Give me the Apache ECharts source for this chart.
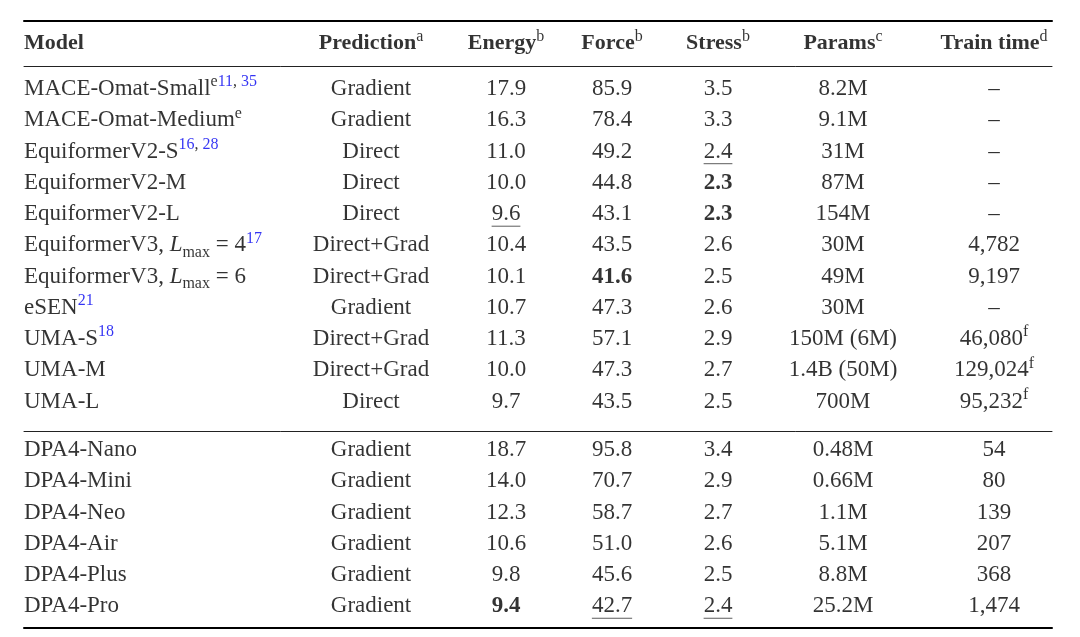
<!DOCTYPE html>
<html>
<head>
<meta charset="utf-8">
<script src="https://cdn.jsdelivr.net/npm/echarts@6/dist/echarts.min.js"></script>
<style>
  html, body { margin: 0; padding: 0; background: #fff; }
  #main { width: 1080px; height: 637px; }
</style>
</head>
<body>
<div id="main"></div>
<script>
// table data
var headers = ['Model', 'Prediction', 'Energy', 'Force', 'Stress', 'Params', 'Train time'];
var headerNotes = ['', 'a', 'b', 'b', 'b', 'c', 'd'];
var models = ['MACE-Omat-Small', 'MACE-Omat-Medium', 'EquiformerV2-S', 'EquiformerV2-M', 'EquiformerV2-L',
  'EquiformerV3, L_max = 4', 'EquiformerV3, L_max = 6', 'eSEN', 'UMA-S', 'UMA-M', 'UMA-L',
  'DPA4-Nano', 'DPA4-Mini', 'DPA4-Neo', 'DPA4-Air', 'DPA4-Plus', 'DPA4-Pro'];
var modelNotes = ['e', 'e', '', '', '', '', '', '', '', '', '', '', '', '', '', '', ''];
var modelRefs = [['11', '35'], [], ['16', '28'], [], [], ['17'], [], ['21'], ['18'], [], [], [], [], [], [], [], []];
var prediction = ['Gradient', 'Gradient', 'Direct', 'Direct', 'Direct', 'Direct+Grad', 'Direct+Grad', 'Gradient',
  'Direct+Grad', 'Direct+Grad', 'Direct', 'Gradient', 'Gradient', 'Gradient', 'Gradient', 'Gradient', 'Gradient'];
var energy = [17.9, 16.3, 11.0, 10.0, 9.6, 10.4, 10.1, 10.7, 11.3, 10.0, 9.7, 18.7, 14.0, 12.3, 10.6, 9.8, 9.4];
var force = [85.9, 78.4, 49.2, 44.8, 43.1, 43.5, 41.6, 47.3, 57.1, 47.3, 43.5, 95.8, 70.7, 58.7, 51.0, 45.6, 42.7];
var stress = [3.5, 3.3, 2.4, 2.3, 2.3, 2.6, 2.5, 2.6, 2.9, 2.7, 2.5, 3.4, 2.9, 2.7, 2.6, 2.5, 2.4];
var params = ['8.2M', '9.1M', '31M', '87M', '154M', '30M', '49M', '30M', '150M (6M)', '1.4B (50M)', '700M',
  '0.48M', '0.66M', '1.1M', '5.1M', '8.8M', '25.2M'];
var trainTime = [null, null, null, null, null, 4782, 9197, null, 46080, 129024, 95232, 54, 80, 139, 207, 368, 1474];
var trainNotes = ['', '', '', '', '', '', '', '', 'f', 'f', 'f', '', '', '', '', '', ''];
var groupSizes = [11, 6];

// layout
var colX = [24, 371, 506, 612, 718, 843, 994];
var FONT = 'Liberation Serif';
var INK = '#000';
var FS = 23;

var measureCtx = document.createElement('canvas').getContext('2d');
measureCtx.font = FS + 'px "' + FONT + '"';

// best (bold) and second best (underlined) per metric column
function bestTwo(arr) {
  var u = arr.slice().sort(function (a, b) { return a - b; })
    .filter(function (v, i, a) { return i === 0 || v !== a[i - 1]; });
  return [u[0], u[1]];
}
var metrics = [energy, force, stress];
var metricBest = metrics.map(bestTwo);

function modelText(i) {
  var s = models[i].replace('L_max', '{it|L}{sub|max}');
  if (modelNotes[i]) s += '{sup|' + modelNotes[i] + '}';
  s += modelRefs[i].map(function (r) { return '{ref|' + r + '}'; }).join('{sup|, }');
  return s;
}

function cellText(c, i) {
  if (c === 0) return modelText(i);
  if (c === 1) return prediction[i];
  if (c >= 2 && c <= 4) {
    var v = metrics[c - 2][i];
    var t = v.toFixed(1);
    return v === metricBest[c - 2][0] ? '{b|' + t + '}' : t;
  }
  if (c === 5) return params[i];
  if (trainTime[i] === null) return '\u2013';
  var s = trainTime[i].toLocaleString('en-US');
  if (trainNotes[i]) s += '{sup|' + trainNotes[i] + '}';
  return s;
}

var rich = {
  b: { fontFamily: FONT, fontSize: FS, fontWeight: 'bold', color: INK, lineHeight: 30 },
  it: { fontFamily: FONT, fontSize: FS, fontStyle: 'italic', color: INK, lineHeight: 30 },
  sup: { fontFamily: FONT, fontSize: 16, color: INK, lineHeight: 18, verticalAlign: 'top' },
  ref: { fontFamily: FONT, fontSize: 16, color: '#0000f0', lineHeight: 18, verticalAlign: 'top' },
  sub: { fontFamily: FONT, fontSize: 16, color: INK, lineHeight: 20, verticalAlign: 'bottom' },
  hb: { fontFamily: FONT, fontSize: 22, fontWeight: 'bold', color: INK, lineHeight: 30 }
};

var labelBase = {
  show: true,
  position: 'inside',
  fontFamily: FONT,
  fontSize: FS,
  color: INK,
  lineHeight: 30,
  textBorderWidth: 0,
  formatter: function (p) { return p.data.text; },
  rich: rich
};

// header cells
var headerData = headers.map(function (h, c) {
  var t = '{hb|' + h + '}' + (headerNotes[c] ? '{sup|' + headerNotes[c] + '}' : '');
  var item = { value: [colX[c], 0], text: t };
  if (c === 0) item.label = { align: 'left' };
  return item;
});

// body cells for each row group
var groupCells = [], groupLines = [], start = 0;
groupSizes.forEach(function (n) {
  var cells = [], lines = [];
  for (var r = 0; r < n; r++) {
    var i = start + r;
    for (var c = 0; c < headers.length; c++) {
      var item = { value: [colX[c], r], text: cellText(c, i) };
      if (c === 0) item.label = { align: 'left' };
      cells.push(item);
      if (c >= 2 && c <= 4 && metrics[c - 2][i] === metricBest[c - 2][1]) {
        var w = measureCtx.measureText(metrics[c - 2][i].toFixed(1)).width;
        lines.push({ value: [colX[c], r], symbolSize: [w, 1] });
      }
    }
  }
  groupCells.push(cells);
  groupLines.push(lines);
  start += n;
});

var rowH = 31.25;
var grids = [
  { left: 24, width: 1028, top: 21, height: 45 },
  { left: 24, width: 1028, top: 89.2 - rowH / 2, height: rowH * groupSizes[0] },
  { left: 24, width: 1028, top: 450 - rowH / 2, height: rowH * groupSizes[1] }
];

function xAxisOf(g, pos, lineW, lineC, offset) {
  return {
    type: 'value', gridIndex: g, min: 24, max: 1052, position: pos || 'bottom', offset: offset || 0,
    show: !!lineW,
    axisLine: { show: !!lineW, onZero: false, lineStyle: { width: lineW || 1, color: lineC || '#000' } },
    axisTick: { show: false }, axisLabel: { show: false }, splitLine: { show: false }
  };
}

function yAxisOf(g, n) {
  var cats = [];
  for (var k = 0; k < n; k++) cats.push(k);
  return { type: 'category', gridIndex: g, inverse: true, data: cats, show: false };
}

function cellSeries(xi, yi, data) {
  return {
    type: 'scatter', xAxisIndex: xi, yAxisIndex: yi, data: data, symbolSize: 1, silent: true,
    itemStyle: { color: 'rgba(0,0,0,0)' }, label: labelBase
  };
}

function lineSeries(xi, yi, data) {
  return {
    type: 'scatter', xAxisIndex: xi, yAxisIndex: yi, data: data, symbol: 'rect', symbolOffset: [0, 12],
    silent: true, itemStyle: { color: '#333' }
  };
}

var myChart = echarts.init(document.getElementById('main'));
var option = {
  backgroundColor: '#fff',
  animation: false,
  grid: grids,
  xAxis: [
    xAxisOf(0, 'top', 2, '#000'),
    xAxisOf(0, 'bottom', 1, '#222'),
    xAxisOf(1),
    xAxisOf(2, 'top', 1, '#222', 3),
    xAxisOf(2, 'bottom', 2, '#000', 6)
  ],
  yAxis: [yAxisOf(0, 1), yAxisOf(1, groupSizes[0]), yAxisOf(2, groupSizes[1])],
  series: [
    cellSeries(0, 0, headerData),
    cellSeries(2, 1, groupCells[0]),
    lineSeries(2, 1, groupLines[0]),
    cellSeries(3, 2, groupCells[1]),
    lineSeries(3, 2, groupLines[1])
  ]
};
myChart.setOption(option);
</script>
</body>
</html>
